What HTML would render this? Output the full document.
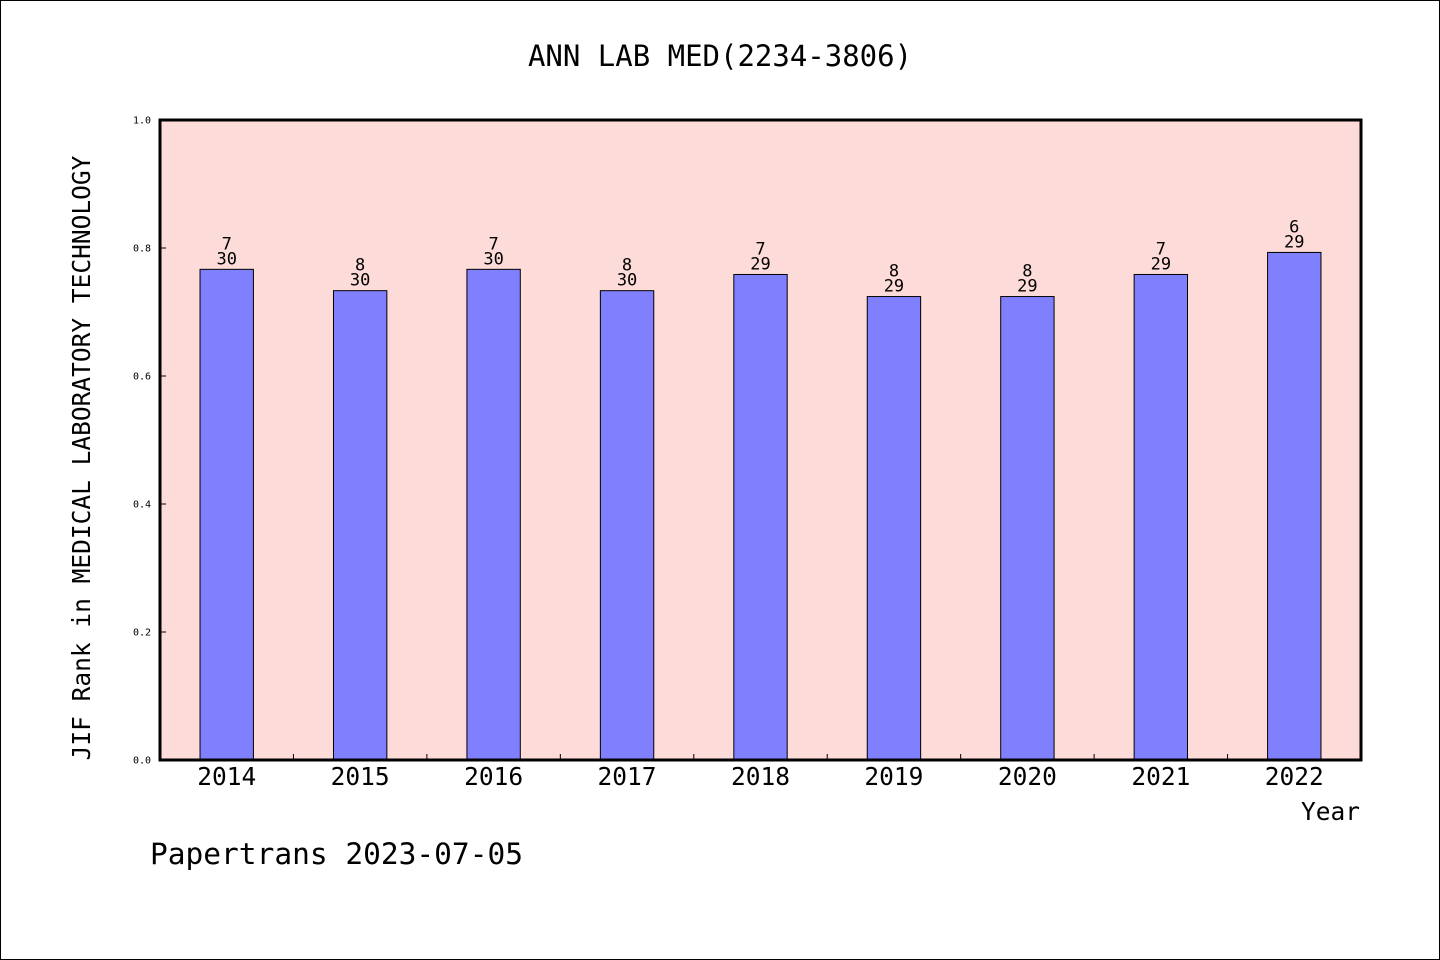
<!DOCTYPE html>
<html><head><meta charset="utf-8"><style>
body{margin:0;background:#fff}
svg{display:block;font-family:"DejaVu Sans Mono","Liberation Mono",monospace}
</style></head><body>
<svg id="c" width="1440" height="960">
<rect x="0.5" y="0.5" width="1439" height="959" fill="#fff" stroke="#000"/>
<text x="720" y="66" font-size="29" text-anchor="middle">ANN LAB MED(2234-3806)</text>
<rect x="160" y="120" width="1201" height="640" fill="#fddbd8"/>
<g id="bars"></g>
<g id="yt"></g>
<g id="xt"></g>
<rect x="160" y="120" width="1201" height="640" fill="none" stroke="#000" stroke-width="3"/>
<text transform="translate(90,458) rotate(-90)" font-size="24.5" text-anchor="middle">JIF Rank in MEDICAL LABORATORY TECHNOLOGY</text>
<text x="1360" y="820" font-size="24.5" text-anchor="end">Year</text>
<text x="150" y="864" font-size="29.5">Papertrans 2023-07-05</text>
</svg>
<script>
const years=["2014","2015","2016","2017","2018","2019","2020","2021","2022"];
const ranks=[7,8,7,8,7,8,8,7,6];
const totals=[30,30,30,30,29,29,29,29,29];
const yTicks=[0,0.2,0.4,0.6,0.8,1.0];
const NS="http://www.w3.org/2000/svg";
const x0=160,w=1201,yb=760,h=640;
const slot=w/years.length;
const ys=v=>yb-v*h;
function mk(t,a,p,txt){const e=document.createElementNS(NS,t);for(const k in a)e.setAttribute(k,a[k]);if(txt!=null)e.textContent=txt;p.appendChild(e);return e;}
const gb=document.getElementById('bars'),gy=document.getElementById('yt'),gx=document.getElementById('xt');
years.forEach((yr,i)=>{
  const v=1-ranks[i]/totals[i];
  const cx=x0+slot*(i+0.5),bw=slot*0.4;
  const r=mk('rect',{x:cx-bw/2,y:ys(v),width:bw,height:yb-ys(v),fill:'#8080ff',stroke:'#000','stroke-width':1},gb);
  
  
  const t1=mk('text',{x:cx,y:ys(v)-20,'font-size':17,'text-anchor':'middle'},gb,String(ranks[i]));
  
  
  const t2=mk('text',{x:cx,y:ys(v)-5,'font-size':17,'text-anchor':'middle'},gb,String(totals[i]));
  
  
  const xl=mk('text',{x:cx,y:785,'font-size':24.5,'text-anchor':'middle'},gx,yr);
  
  
  if(i>0){const tk=mk('line',{x1:x0+slot*i,x2:x0+slot*i,y1:yb,y2:yb-6,stroke:'#000'},gx);
  
  }
});
yTicks.forEach(v=>{
  const y=ys(v);
  const tk=mk('line',{x1:x0,x2:x0+6,y1:y,y2:y,stroke:'#000'},gy);
  
  
  const l=mk('text',{x:151,y:y+3.5,'font-size':10,'text-anchor':'end'},gy,v.toFixed(1));
  
  
});
</script>
</body></html>
